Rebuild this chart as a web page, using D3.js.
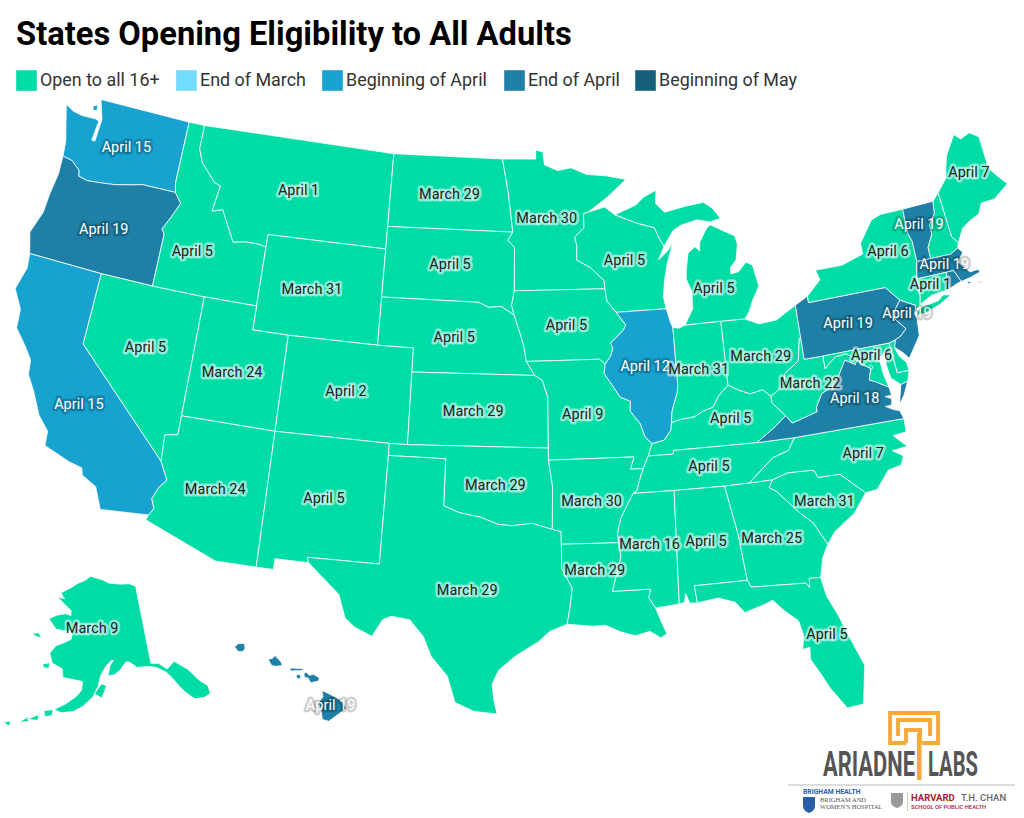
<!DOCTYPE html>
<html><head><meta charset="utf-8">
<script src="https://cdn.jsdelivr.net/npm/d3@7/dist/d3.min.js"></script>
<style>html,body{margin:0;padding:0;background:#fff}svg{display:block}text{font-family:Roboto,sans-serif}</style>
</head><body><svg id="c" width="1024" height="818"></svg>
<script>
const chartTitle="States Opening Eligibility to All Adults";
const legendLabels=["Open to all 16+","End of March","Beginning of April","End of April","Beginning of May"];
const legendColors=["#00dca6","#72dbff","#18a2d0","#1e80a6","#155f7c"];
const statesEndApril=["OR","PA","NJ","VA","VT","MA","RI","HI"];
const statesBeginApril=["WA","CA","IL"];
const dateLabels={WA:"April 15",OR:"April 19",CA:"April 15",NV:"April 5",ID:"April 5",MT:"April 1",WY:"March 31",UT:"March 24",AZ:"March 24",CO:"April 2",NM:"April 5",ND:"March 29",SD:"April 5",NE:"April 5",KS:"March 29",OK:"March 29",TX:"March 29",MN:"March 30",IA:"April 5",MO:"April 9",AR:"March 30",LA:"March 29",WI:"April 5",IL:"April 12",MS:"March 16",MI:"April 5",IN:"March 31",OH:"March 29",KY:"April 5",TN:"April 5",AL:"April 5",GA:"March 25",FL:"April 5",SC:"March 31",NC:"April 7",VA:"April 18",WV:"March 22",PA:"April 19",NY:"April 6",VT:"April 19",ME:"April 7",MA:"April 19",CT:"April 1",NJ:"April 19",MD:"April 6",AK:"March 9",HI:"April 19"};
// label offsets from each state's centroid (pixels)
const labelNudge={OR:[0,3],CA:[-3,15],NV:[0,-4],ID:[-13,12],MT:[0,2],WY:[-9,-1],UT:[-3,4],NM:[0,-2],SD:[0,-2],KS:[-5,0],OK:[2,3],TX:[12,9],MN:[-5,-5],MO:[-6,0],AR:[0,3],LA:[-11,-22],IL:[-1,-4],MS:[0,-4],MI:[-5,8],OH:[0,4],KY:[7,-6],GA:[-3,1],FL:[21,5],SC:[4,2],NC:[20,-2],VA:[12,-9],WV:[3,-2],NY:[12,-14],VT:[-1,-4],ME:[2,-11],MA:[0,-3],CT:[-2,-2],NJ:[0,-15],MD:[-3,-8],AK:[-15,-11],HI:[0,-2]};

// Shared borders (degrees west, north)
const B={
wa_c:"124,46.27 124.1,46.9 124.4,47.6 124.73,48.38 124.2,48.2 123.6,48.13 122.75,48.15 122.5,48.1 122.55,47.75 122.6,47.25 122.4,47.25 122.38,47.75 122.35,48.2 122.5,48.5 122.75,49",
wa_n:"122.75,49 117.04,49",
wa_id:"117.04,49 117.04,46.4 116.92,46",
wa_or:"124,46.27 123.4,46.2 122.85,45.9 122.75,45.65 122.2,45.57 121.2,45.65 120.5,45.72 119.3,45.93 118.98,46 116.92,46",
or_c:"124,46.27 123.95,45.5 124.1,44.6 124.15,43.8 124.4,43.2 124.55,42.85 124.2,42",
ca_or:"124.2,42 120,42",
nv_or:"120,42 117.03,42",
id_or:"116.92,46 116.47,45.6 116.85,44.95 117.22,44.4 117.03,44.2 117.03,43.8 117.03,42",
ca_nv:"120,42 120,39 114.63,35",
ca_az:"114.63,35 114.15,34.28 114.5,33.9 114.72,33.4 114.52,33.03 114.72,32.72",
ca_mx:"117.13,32.53 114.72,32.72",
ca_c:"124.2,42 124.1,41.4 124.4,40.44 123.8,39.7 123.7,38.9 123,38.3 122.5,37.8 122.4,37.2 121.9,36.6 121.3,35.7 120.65,35.15 120.6,34.55 119.2,34.15 118.5,34.03 118.4,33.75 117.6,33.4 117.13,32.53",
id_nv:"117.03,42 114.04,42",
nv_ut:"114.04,42 114.04,37",
nv_az:"114.04,37 114.04,36.2 114.7,36.1 114.63,35",
id_n:"117.04,49 116.05,49",
id_mt:"116.05,49 116.05,48 115.7,47.45 114.75,46.75 114.35,46.65 114.55,45.55 113.95,45.7 113.45,45.05 113,44.45 112.3,44.55 111.5,44.55 111.05,44.48",
id_wy:"111.05,44.48 111.05,42",
id_ut:"114.04,42 111.05,42",
mt_n:"116.05,49 104.05,49",
mt_nd:"104.05,49 104.05,45.94",
mt_sd:"104.05,45.94 104.05,45",
mt_wy:"111.05,44.48 111.05,45 104.05,45",
wy_sd:"104.05,45 104.05,43",
wy_ne:"104.05,43 104.05,41",
wy_co:"109.05,41 104.05,41",
ut_wy:"111.05,42 111.05,41 109.05,41",
ut_co:"109.05,41 109.05,37",
ut_az:"114.04,37 109.05,37",
az_nm:"109.05,37 109.05,31.33",
az_mx:"114.72,32.72 114.81,32.5 111.07,31.33 109.05,31.33",
co_ne:"104.05,41 102.05,41 102.05,40",
co_ks:"102.05,40 102.04,37",
co_ok:"103,37 102.04,37",
co_nm:"109.05,37 103,37",
nm_ok:"103,37 103,36.5",
nm_tx:"103,36.5 103.05,32 106.62,32 106.53,31.78",
nm_mx:"106.53,31.78 108.2,31.78 108.2,31.33 109.05,31.33",
nd_n:"104.05,49 97.23,49",
nd_mn:"97.23,49 96.85,47.6 96.56,45.94",
nd_sd:"104.05,45.94 96.56,45.94",
sd_mn:"96.56,45.94 96.85,45.6 96.45,45.3 96.45,43.5",
sd_ia:"96.45,43.5 96.6,42.9 96.45,42.49",
sd_ne:"104.05,43 98.5,43 97.9,42.8 97.2,42.85 96.45,42.49",
ne_ia:"96.45,42.49 96.1,41.7 95.9,41.2 95.77,40.58",
ne_mo:"95.77,40.58 95.3,40",
ne_ks:"102.05,40 95.3,40",
ks_mo:"95.3,40 94.9,39.8 94.61,39.1 94.62,37",
ks_ok:"102.04,37 94.62,37",
ok_mo:"94.62,37 94.62,36.5",
ok_ar:"94.62,36.5 94.43,35.4 94.48,33.64",
ok_tx:"103,36.5 100,36.5 100,34.56 99.2,34.3 98.1,34.13 97.2,33.85 96.5,33.8 95.5,33.9 94.48,33.64",
tx_ar:"94.48,33.64 94.04,33.55 94.04,33.02",
tx_la:"94.04,33.02 94.04,32 93.55,31.2 93.7,30.3 93.84,29.7",
tx_c:"93.84,29.7 94.7,29.4 95.2,29 96.3,28.4 97.1,27.8 97.4,27.2 97.3,26.5 97.15,25.96",
tx_mx:"97.15,25.96 98.2,26.05 99.1,26.4 99.5,27.5 100.3,28.3 100.7,29.1 101.4,29.77 102.3,29.87 102.7,29.7 103.15,28.98 104,29.3 104.5,29.65 104.9,30.6 106.53,31.78",
mn_can:"97.23,49 95.15,49 95.15,49.38 94.7,49.3 94.6,48.75 93.8,48.5 92.95,48.6 92,48.3 90.8,48.2 89.6,48",
mn_sup:"89.6,48 90.8,47.3 92.02,46.71",
mn_wi:"92.02,46.71 92.29,46.66 92.29,46.07 92.87,45.7 92.75,45.3 92.8,44.75 92,44.4 91.25,43.85 91.22,43.5",
mn_ia:"96.45,43.5 91.22,43.5",
ia_wi:"91.22,43.5 91.15,43 90.65,42.5",
ia_il:"90.65,42.5 90.15,41.95 90.3,41.75 91.05,41.25 90.95,41 91.1,40.7 91.42,40.38",
ia_mo:"95.77,40.58 91.72,40.6 91.42,40.38",
mo_il:"91.42,40.38 91.5,40 91,39.4 90.7,39 90.15,38.8 90.2,38.4 89.7,37.85 89.5,37.3 89.15,37",
mo_ky:"89.15,37 89.4,36.5",
mo_tn:"89.4,36.5 89.7,36",
ar_mo:"94.62,36.5 90.15,36.5 90.37,36 89.7,36",
ar_tn:"89.7,36 89.95,35.5 90.1,35.1 90.3,35",
ar_ms:"90.3,35 90.6,34.6 91,34 91.2,33.4 91.17,33",
ar_la:"94.04,33.02 91.17,33",
la_ms:"91.17,33 91.1,32.4 91.6,31 89.73,31 89.85,30.65 89.55,30.2",
la_c:"93.84,29.7 92.6,29.58 92,29.6 91.3,29.3 90.6,29.1 89.9,29.25 89.4,28.95 89.1,29.1 89.4,29.8 89.55,30.2",
wi_sup:"92.02,46.71 91,46.9 90.4,46.55",
wi_mi:"90.4,46.55 89.1,46.14 88.1,45.9 87.8,45.35 87.6,45.1",
wi_lk:"87.6,45.1 88,44.55 87.4,44.9 87.05,45.25 87.5,44.4 87.75,43.7 87.9,43 87.8,42.5",
il_wi:"90.65,42.5 87.8,42.5",
il_lk:"87.8,42.5 87.6,41.85 87.52,41.72",
il_in:"87.52,41.72 87.53,39.3 87.6,39 87.95,38.3 88.05,37.8",
il_ky:"88.05,37.8 88.1,37.5 88.5,37.1 89.15,37",
in_lk:"87.52,41.72 87.2,41.65 86.82,41.76",
in_mi:"86.82,41.76 84.8,41.76",
in_oh:"84.8,41.76 84.82,39.1",
in_ky:"88.05,37.8 87.5,37.9 86.8,37.95 86.3,38.15 85.75,38.27 85.4,38.7 84.82,39.1",
mi_oh:"84.8,41.76 83.45,41.73",
oh_lk:"83.45,41.73 82.7,41.45 81.7,41.5 80.52,41.98",
oh_pa:"80.52,41.98 80.52,40.64",
oh_wv:"82.6,38.42 82.2,38.6 81.75,39 81.7,39.25 80.85,39.7 80.6,40.6 80.52,40.64",
oh_ky:"84.82,39.1 84.3,38.85 83.7,38.63 83,38.73 82.6,38.42",
mi_lw:"86.82,41.76 86.3,42.4 86.25,43.1 86.5,43.65 86.45,44 86.25,44.7 85.8,44.95 85.55,44.75 85.5,45.1 85,45.65 84.75,45.78 84.1,45.5 83.4,45.2 83.3,44.85 83.5,44.2 83.9,43.9 83.9,43.65 83.45,43.7 82.95,44.05 82.6,43.9 82.4,43 82.9,42.4 83.15,42 83.45,41.73",
mi_up:"87.6,45.1 87,45.7 86.5,45.9 85.5,46.05 84.75,45.9 84.1,46 84.5,46.45 85,46.75 86.1,46.67 87.4,46.5 87.9,46.9 87.8,47.45 88.6,47.2 89.1,46.9 90.4,46.55",
ky_wv:"82.6,38.42 82.6,38.15 81.97,37.54",
ky_va:"81.97,37.54 82.7,37.1 83.68,36.6",
tn_ky:"89.4,36.5 88.07,36.5 88.07,36.65 83.68,36.6",
tn_va:"83.68,36.6 81.68,36.59",
tn_nc:"81.68,36.59 82.1,36.1 82.95,35.9 83.5,35.55 84.32,34.99",
ga_tn:"85.6,34.98 84.32,34.99",
al_tn:"88.2,35 85.6,34.98",
ms_tn:"90.3,35 88.2,35",
al_ms:"88.4,30.3 88.2,35",
ms_c:"89.55,30.2 88.4,30.3",
al_ga:"85,31 85.1,32 85.18,32.87 85.6,34.98",
al_fl:"87.52,30.28 87.6,31 85,31",
al_c:"88.4,30.3 88.15,30.35 88.05,30.7 87.9,30.3 87.52,30.28",
ga_nc:"84.32,34.99 83.11,35",
ga_sc:"80.85,32.03 81.4,33 82,33.5 83,34.5 83.35,34.7 83.11,35",
ga_c:"81.45,30.71 81.2,31.5 80.85,32.03",
ga_fl:"85,31 84.86,30.7 82.2,30.57 82.05,30.36 82,30.75 81.45,30.71",
fl_c:"87.52,30.28 86.5,30.4 85.7,30.15 85.3,29.68 84.4,29.9 83.9,30.05 83.4,29.55 82.8,29.05 82.65,28.4 82.8,27.85 82.45,27.9 82.5,27.4 82.1,26.7 81.8,26.1 81.15,25.15 80.4,25.2 80.05,26.8 80.55,28.1 80.9,29.05 81.3,29.9 81.45,30.71",
sc_nc:"78.55,33.86 79.67,34.8 80.8,34.82 80.93,35.1 81.05,35.15 82.3,35.2 83.11,35",
sc_c:"80.85,32.03 80.4,32.5 79.3,33.1 78.55,33.86",
nc_va:"81.68,36.59 75.87,36.55",
nc_c:"78.55,33.86 77.95,33.9 77.2,34.6 76.5,34.7 76.3,35.05 76.8,35.35 76,35.4 76.6,35.95 75.9,36 75.87,36.55",
va_wv:"81.97,37.54 81.68,37.2 80.3,37.5 80.3,37.68 79.9,38.2 79.3,38.42 78.87,38.77 78.35,39.4 77.83,39.14 77.72,39.32",
va_md:"77.72,39.32 77.5,39.1 77.05,38.85 77.25,38.4 76.95,38.28 76.3,37.95",
va_c:"76.3,37.95 76.25,37.6 76.6,37.6 76.28,37.45 76.35,37.2 76.7,37.2 76.3,37 76,36.9 75.87,36.55",
pa_wv:"80.52,40.64 80.52,39.72 79.48,39.72",
md_wv:"77.72,39.32 78.2,39.65 78.8,39.6 79.1,39.45 79.48,39.2 79.48,39.72",
pa_md:"79.48,39.72 75.79,39.72",
pa_de:"75.79,39.72 75.42,39.8",
pa_nj:"75.42,39.8 75.1,39.9 74.72,40.15 75.2,40.65 75.1,41 74.7,41.36",
pa_ny:"74.7,41.36 75.35,42 79.76,42 79.76,42.27",
pa_lk:"79.76,42.27 80.52,41.98",
md_de:"75.79,39.72 75.7,38.46 75.05,38.45",
md_c:"75.05,38.45 75.25,38.03 75.65,37.95 76.1,38.3 76.2,38.9 76,39.45 76.5,39.2 76.45,38.5 76.3,37.95",
de_c:"75.42,39.8 75.55,39.45 75.4,39.1 75.1,38.8 75.05,38.45",
ny_nj:"74.7,41.36 73.9,41 74.05,40.65",
nj_c:"74.05,40.65 74,40.45 74.1,39.75 74.4,39.45 74.9,38.93 75.15,39.2 75.55,39.5 75.42,39.8",
ny_n:"79.76,42.27 78.9,42.85 79.05,43.27 77.5,43.27 76.2,43.55 76.2,44 75.3,44.85 74.7,45 73.35,45",
ny_vt:"73.35,45 73.4,44 73.25,43.6 73.27,42.75",
ny_ma:"73.27,42.75 73.5,42.05",
ny_ct:"73.5,42.05 73.55,41.3 73.65,41",
ny_c:"73.65,41 73.9,40.85 74.05,40.65",
vt_n:"73.35,45 71.5,45.01",
vt_nh:"71.5,45.01 71.6,44.5 72.05,44.1 72.05,43.7 72.45,43.2 72.46,42.73",
vt_ma:"73.27,42.75 72.46,42.73",
nh_n:"71.5,45.01 71.08,45.3",
nh_me:"71.08,45.3 70.98,43.4 70.7,43.07",
nh_c:"70.7,43.07 70.82,42.87",
nh_ma:"72.46,42.73 71.3,42.7 70.82,42.87",
me_c:"71.08,45.3 70.4,45.8 70.25,46.2 70,46.7 69.23,47.46 68.9,47.2 68.3,47.35 67.8,47.07 67.8,45.7 67.45,45.3 67,44.85 68,44.4 68.8,44.4 69.1,44 69.8,43.8 70.25,43.6 70.7,43.07",
ma_c:"70.82,42.87 70.6,42.65 71,42.3 70.65,41.95 70.5,41.78 70,41.8 70.2,42.07 69.95,41.67 70.6,41.55 71.12,41.5",
ma_ri:"71.12,41.5 71.38,42.02 71.8,42.02",
ct_ma:"73.5,42.05 71.8,42.02",
ct_ri:"71.8,42.02 71.86,41.32",
ct_c:"71.86,41.32 72.9,41.25 73.65,41",
ri_c:"71.12,41.5 71.4,41.45 71.86,41.32"
};
// Each state: rings composed from the borders above ('-' = reversed), or literal rings
const R={
WA:["wa_c wa_n wa_id -wa_or","123.1,48.65 122.85,48.75 122.8,48.5 123.05,48.48"],OR:["or_c ca_or nv_or -id_or -wa_or"],CA:["ca_or ca_nv ca_az -ca_mx -ca_c"],
NV:["nv_or id_nv nv_ut nv_az -ca_nv"],ID:["id_n id_mt id_wy -id_ut -id_nv -id_or -wa_id"],MT:["mt_n mt_nd mt_sd -mt_wy -id_mt"],
WY:["mt_wy wy_sd wy_ne -wy_co -ut_wy -id_wy"],UT:["id_ut ut_wy ut_co -ut_az -nv_ut"],AZ:["ut_az az_nm -az_mx -ca_az -nv_az"],
CO:["wy_co co_ne co_ks -co_ok -co_nm -ut_co"],NM:["co_nm nm_ok nm_tx nm_mx -az_nm"],ND:["nd_n nd_mn -nd_sd -mt_nd"],
SD:["nd_sd sd_mn sd_ia -sd_ne -wy_sd -mt_sd"],NE:["sd_ne ne_ia ne_mo -ne_ks -co_ne -wy_ne"],KS:["ne_ks ks_mo -ks_ok -co_ks"],
OK:["co_ok ks_ok ok_mo ok_ar -ok_tx -nm_ok"],TX:["ok_tx tx_ar tx_la tx_c tx_mx -nm_tx"],MN:["mn_can mn_sup mn_wi -mn_ia -sd_mn -nd_mn"],
IA:["mn_ia ia_wi ia_il -ia_mo -ne_ia -sd_ia"],MO:["ia_mo mo_il mo_ky mo_tn -ar_mo -ok_mo -ks_mo -ne_mo"],AR:["ar_mo ar_tn ar_ms -ar_la -tx_ar -ok_ar"],
LA:["ar_la la_ms -la_c -tx_la"],WI:["wi_sup wi_mi wi_lk -il_wi -ia_wi -mn_wi"],IL:["il_wi il_lk il_in il_ky -mo_il -ia_il"],
IN:["in_lk in_mi in_oh -in_ky -il_in"],OH:["mi_oh oh_lk oh_pa -oh_wv -oh_ky -in_oh"],MI:["mi_lw -mi_oh -in_mi","wi_mi mi_up"],
KY:["in_ky oh_ky ky_wv ky_va -tn_ky -mo_ky -il_ky"],TN:["tn_ky tn_va tn_nc -ga_tn -al_tn -ms_tn -ar_tn -mo_tn"],MS:["ms_tn -al_ms -ms_c -la_ms -ar_ms"],
AL:["al_tn -al_ga -al_fl -al_c al_ms"],GA:["ga_tn ga_nc -ga_sc -ga_c -ga_fl al_ga"],FL:["al_fl ga_fl -fl_c"],SC:["ga_sc -sc_nc -sc_c"],
NC:["sc_nc -ga_nc -tn_nc nc_va -nc_c"],VA:["-ky_va va_wv va_md va_c -nc_va -tn_va","75.95,37.15 75.65,37.95 75.25,38.03 75.6,37.5"],
WV:["oh_wv pa_wv -md_wv -va_wv -ky_wv"],PA:["pa_lk oh_pa pa_wv pa_md pa_de pa_nj pa_ny"],MD:["md_wv pa_md md_de md_c -va_md"],
DE:["pa_de de_c -md_de"],NJ:["pa_nj ny_nj nj_c"],
NY:["ny_n ny_vt ny_ma ny_ct ny_c -ny_nj pa_ny","74,40.6 73.75,40.85 72.6,40.97 72.3,41.15 71.87,41.07 72.6,40.8 73.5,40.6"],
VT:["vt_n vt_nh -vt_ma -ny_vt"],NH:["nh_n nh_me nh_c -nh_ma -vt_nh"],ME:["me_c -nh_me"],
MA:["vt_ma nh_ma ma_c ma_ri -ct_ma -ny_ma","70.85,41.45 70.5,41.35 70.75,41.33","70.25,41.3 69.97,41.28 70.05,41.23"],
CT:["ct_ma ct_ri ct_c -ny_ct"],RI:["-ma_ri ri_c -ct_ri"],DC:["77.12,38.93 77.04,39 76.91,38.89 77.04,38.79"],
AK:["141,69.65 143,70.1 146,70.2 150,70.45 152,70.85 156.5,71.3 158,70.85 161,70.3 163,69.7 166,68.9 164.5,68.3 166.8,68.35 164,67.6 162,67 161.8,66.4 163.5,66.55 166,66.2 168,65.6 165.5,64.55 163,64.5 161,64.6 161,63.6 163,63.05 164.8,62.6 166,61.6 165,60.5 162.4,60 162,59 160,58.9 158.5,58.8 157.4,58.7 157.5,57.7 158.6,56.9 160.8,55.9 163,55.1 161.5,54.8 159,55.1 157,55.8 155,56.9 153.8,58.2 153.2,59.5 152,60.5 150.6,61.2 150,61.2 150.9,60.6 151.5,59.4 150,59.5 148.5,60 147,60.9 146,60.8 144.5,60.1 142,60 140,59.7 138,58.9 137,58.1 136,57 135,56 133.5,54.9 131.5,54.7 130.1,54.9 130,55.9 131.3,56.8 133,58.5 135.5,59.9 137.5,59.2 139.2,60.1 141,60.3",
"154.7,57.3 153,58.5 151.9,58.2 153,56.8","167.2,60.2 165.6,60.5 165.6,59.8 166.9,59.8","171.7,63.4 170,63.7 168.8,63.2 170.2,63.2","165,54.8 163.2,55.05 163.3,54.3 164.8,54.1","168,53.4 166,54.2 165.9,53.5","169.5,52.8 168,53.7 167.7,53.2","172.5,52.4 171,52.7 171.3,52.1"],
HI:["155.9,20.26 155.6,20.13 155.1,19.87 154.8,19.52 155.6,18.97 155.88,19.05 155.95,19.5 156.06,19.73 155.85,20","156.7,20.95 156.6,21.03 156.45,20.9 156.25,20.93 156,20.78 156.05,20.65 156.4,20.58 156.5,20.78 156.65,20.8","157.3,21.2 156.75,21.18 156.72,21.1 157.3,21.08","157.05,20.92 156.85,20.92 156.82,20.78 156.98,20.74","158.28,21.57 158.1,21.6 157.97,21.72 157.7,21.45 157.65,21.3 157.95,21.27 158.12,21.3","159.78,22.07 159.6,22.22 159.35,22.22 159.3,22.03 159.4,21.88 159.6,21.88"]
};
const parse=s=>s.trim().split(/\s+/).map(p=>{const[a,b]=p.split(",").map(Number);return[-a,b]});
function ring(str){
  let pts=[];
  if(/[a-z]/.test(str)){
    str.split(" ").forEach(tok=>{
      const rev=tok[0]==="-",k=rev?tok.slice(1):tok;
      const seg=parse(B[k]);if(rev)seg.reverse();pts=pts.concat(seg);
    });
  } else pts=parse(str);
  if(pts[0][0]!==pts[pts.length-1][0]||pts[0][1]!==pts[pts.length-1][1])pts.push(pts[0]);
  return pts;
}
function feature(id){
  const polys=R[id].map(s=>{
    let r=ring(s);
    if(d3.geoArea({type:"Polygon",coordinates:[r]})>2*Math.PI)r=r.slice().reverse();
    return[r];
  });
  return{type:"Feature",id,geometry:{type:"MultiPolygon",coordinates:polys}};
}
const features=Object.keys(R).map(feature);
const category=id=>statesEndApril.includes(id)?legendLabels[3]:statesBeginApril.includes(id)?legendLabels[2]:legendLabels[0];
const color=d3.scaleOrdinal().domain(legendLabels).range(legendColors);
const projection=d3.geoAlbersUsa().scale(1376).translate([511,407]);
const path=d3.geoPath(projection);
const svg=d3.select("#c");

svg.append("text").attr("x",16).attr("y",45).attr("font-size",32.7).attr("font-weight",700).attr("fill","#000").text(chartTitle);

const legendX=d3.scaleOrdinal().domain(legendLabels).range([16,176,322,504,635]);
const lg=svg.append("g").selectAll("g").data(legendLabels).join("g").attr("transform",d=>`translate(${legendX(d)},70)`);
lg.append("rect").attr("width",21).attr("height",21).attr("fill",d=>color(d)).attr("stroke","#fff").attr("stroke-opacity",.4);
lg.append("text").attr("x",24).attr("y",16).attr("font-size",17.9).attr("fill","#333").text(d=>d);

svg.append("g").selectAll("path").data(features).join("path").attr("d",path).attr("fill",d=>color(category(d.id))).attr("stroke","#fff").attr("stroke-width",.8).attr("stroke-linejoin","round");

const labelled=features.filter(f=>dateLabels[f.id]);
const mainBig=f=>{ // centroid of the largest piece
  const polys=f.geometry.coordinates.map(c=>({type:"Polygon",coordinates:c}));
  return path.centroid(polys.reduce((a,b)=>path.area(b)>path.area(a)?b:a));
};
svg.append("g").selectAll("text").data(labelled).join("text")
 .attr("transform",f=>{const c=mainBig(f),n=labelNudge[f.id]||[0,0];return`translate(${c[0]+n[0]},${c[1]+n[1]})`})
 .attr("text-anchor","middle").attr("dy","0.35em").attr("font-size",14.5)
 .attr("paint-order","stroke").attr("stroke-width",5).attr("stroke-linejoin","round")
 .attr("stroke",f=>category(f.id)===legendLabels[0]?"rgba(255,255,255,.55)":"rgba(0,0,0,.2)")
 .attr("fill",f=>category(f.id)===legendLabels[0]?"#222":"#fff")
 .text(f=>dateLabels[f.id]);

// Logo block
const logo=svg.append("g");
const or="#f6a83c";
logo.append("path").attr("fill","none").attr("stroke",or).attr("stroke-width",3.8)
 .attr("d","M906 743H890V713H938V743H922M898 736V720H930V736M906 743V730H920V743");
logo.append("rect").attr("x",917).attr("y",733).attr("width",4.5).attr("height",47).attr("fill",or);
logo.selectAll(".lg").data([["ARIADNE",823,92],["LABS",928,50]]).join("text").attr("class","lg")
 .attr("font-size",36).attr("font-weight",700).attr("fill","#555").style("font-family","'Liberation Sans Narrow',Roboto").text(d=>d[0])
 .attr("transform",function(d){const w=this.getComputedTextLength();return`translate(${d[1]},776) scale(${d[2]/w},1)`});
logo.append("rect").attr("x",788).attr("y",784.5).attr("width",227).attr("height",1).attr("fill","#bbb");
const small=[["BRIGHAM HEALTH",803,794,6.8,"#2a5da8",700,"Roboto"],["BRIGHAM AND",820,802,6.5,"#555",400,"Liberation Serif"],["WOMEN'S HOSPITAL",820,809,6.5,"#555",400,"Liberation Serif"],["HARVARD",911,801,9.5,"#a51c30",700,"Roboto"],["T.H. CHAN",961,801,9.5,"#666",500,"Roboto"],["SCHOOL OF PUBLIC HEALTH",911,809,5.8,"#a51c30",500,"Roboto"]];
logo.selectAll(".sm").data(small).join("text").attr("class","sm").attr("x",d=>d[1]).attr("y",d=>d[2]).attr("font-size",d=>d[3]).attr("fill",d=>d[4]).attr("font-weight",d=>d[5]).style("font-family",d=>d[6]).text(d=>d[0]);
logo.append("path").attr("d","M803 797H815V806Q815 811 809 813Q803 811 803 806Z").attr("fill","#2a5da8");
logo.append("path").attr("d","M891 793H903V802Q903 806 897 808Q891 806 891 802Z").attr("fill","#999");
logo.append("rect").attr("x",907).attr("y",792).attr("width",.6).attr("height",19).attr("fill","#aaa");
</script></body></html>
